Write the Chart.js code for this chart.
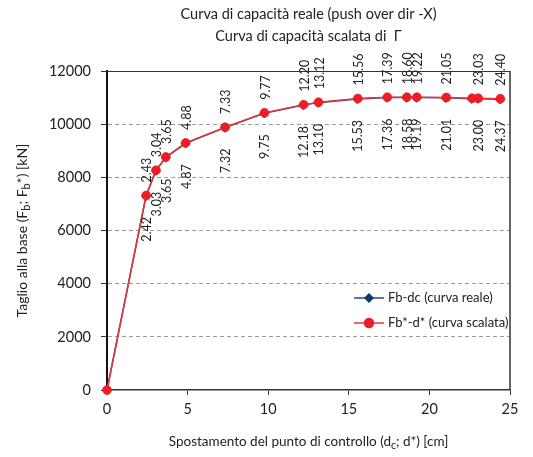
<!DOCTYPE html>
<html>
<head>
<meta charset="utf-8">
<script src="https://cdn.jsdelivr.net/npm/chart.js@4"></script>
<style>
    html, body { margin: 0; padding: 0; background: #fff; }
    #pushover { display: block; }
</style>
</head>
<body>
<canvas id="pushover" width="533" height="457"></canvas>
<script>
// Curva reale (Fb-dc): spostamento [cm], taglio [kN]
const realX = [0, 2.42, 3.03, 3.65, 4.87, 7.32, 9.75, 12.18, 13.10, 15.53, 17.36, 18.58, 19.19, 21.01, 22.62, 23.00, 24.37];
const realY = [0, 7300, 8250, 8750, 9280, 9870, 10410, 10720, 10810, 10950, 11000, 11000, 11000, 10990, 10960, 10960, 10940];

// Curva scalata di Gamma (Fb*-d*)
const scaledX = [0, 2.43, 3.04, 3.65, 4.88, 7.33, 9.77, 12.20, 13.12, 15.56, 17.39, 18.60, 19.22, 21.05, 22.65, 23.03, 24.40];
const scaledY = [0, 7315, 8265, 8765, 9295, 9885, 10425, 10735, 10825, 10965, 11015, 11015, 11015, 11005, 10975, 10975, 10955];

// which points carry a displacement label
const labelled = [false, true, true, true, true, true, true, true, true, true, true, true, true, true, false, true, true];

const yTicks = [0, 2000, 4000, 6000, 8000, 10000, 12000];
const xTicks = [0, 5, 10, 15, 20, 25];

const titleLines = ['Curva di capacità reale (push over dir -X)', 'Curva di capacità scalata di  Γ'];
const seriesNames = ['Fb-dc (curva reale)', 'Fb*-d* (curva scalata)'];

const FONT = 'Lato, "Noto Sans", sans-serif';
const TEXT = '#222';

function drawRich(ctx, parts, x, y, size) {
    // parts: [text, sub?] pairs, centred on x
    const widths = parts.map(([t, sub]) => {
        ctx.font = (sub ? size - 3 : size) + 'px ' + FONT;
        return ctx.measureText(t).width;
    });
    let cx = x - widths.reduce((a, b) => a + b, 0) / 2;
    parts.forEach(([t, sub], i) => {
        ctx.font = (sub ? size - 3 : size) + 'px ' + FONT;
        ctx.fillText(t, cx, sub ? y + 4 : y);
        cx += widths[i];
    });
}

const decorations = {
    id: 'decorations',
    beforeDatasetsDraw(chart) {
        const { ctx, chartArea: a } = chart;
        ctx.save();
        ctx.strokeStyle = '#333';
        ctx.lineWidth = 1;
        ctx.beginPath();
        ctx.moveTo(a.left - 6, a.top + 0.5);
        ctx.lineTo(a.right, a.top + 0.5);
        ctx.stroke();
        ctx.lineWidth = 1.5;
        ctx.beginPath();
        ctx.moveTo(a.right, a.top);
        ctx.lineTo(a.right, a.bottom);
        ctx.stroke();
        ctx.restore();
    },
    afterDraw(chart) {
        const { ctx, chartArea: a } = chart;
        const midX = (a.left + a.right) / 2;
        ctx.save();
        ctx.fillStyle = TEXT;
        ctx.textBaseline = 'middle';
        ctx.textAlign = 'center';

        // titles
        ctx.font = '14.5px ' + FONT;
        titleLines.forEach((t, i) => ctx.fillText(t, midX, 14 + i * 22));

        // axis titles
        ctx.textAlign = 'left';
        drawRich(ctx, [['Spostamento del punto di controllo (d', false], ['c', true], ['; d*) [cm]', false]], midX, 442, 13.5);
        ctx.save();
        ctx.translate(22, (a.top + a.bottom) / 2);
        ctx.rotate(-Math.PI / 2);
        drawRich(ctx, [['Taglio alla base (F', false], ['b', true], ['; F', false], ['b', true], ['*) [kN]', false]], 0, 0, 14);
        ctx.restore();

        // point labels: real curve below, scaled curve above
        ctx.font = '12.5px ' + FONT;
        chart.data.datasets.forEach((ds, di) => {
            const meta = chart.getDatasetMeta(di);
            meta.data.forEach((pt, i) => {
                if (!labelled[i]) return;
                ctx.save();
                ctx.translate(pt.x + 1, di === 0 ? pt.y + 21 : pt.y - 13);
                ctx.rotate(-Math.PI / 2);
                ctx.textAlign = di === 0 ? 'right' : 'left';
                ctx.fillText(ds.data[i].x.toFixed(2), 0, 0);
                ctx.restore();
            });
        });

        // legend inside the plot
        const lx = a.right - 156;
        chart.data.datasets.forEach((ds, di) => {
            const ly = a.bottom - 92 + di * 25;
            ctx.strokeStyle = ds.borderColor;
            ctx.lineWidth = ds.borderWidth;
            ctx.beginPath();
            ctx.moveTo(lx, ly);
            ctx.lineTo(lx + 30, ly);
            ctx.stroke();
            ctx.fillStyle = ds.pointBackgroundColor;
            ctx.strokeStyle = ds.pointBorderColor;
            Chart.helpers.drawPoint(ctx, { pointStyle: ds.pointStyle, radius: ds.pointRadius, borderWidth: 1, rotation: 0 }, lx + 15, ly);
            ctx.fillStyle = TEXT;
            ctx.font = '13px ' + FONT;
            ctx.textAlign = 'left';
            ctx.fillText(ds.label, lx + 34, ly);
        });
        ctx.restore();
    }
};

new Chart(document.getElementById('pushover'), {
    type: 'line',
    data: {
        datasets: [
            {
                label: seriesNames[0],
                data: realX.map((x, i) => ({ x, y: realY[i] })),
                borderColor: '#1f4e79',
                borderWidth: 1.5,
                pointStyle: 'rectRot',
                pointRadius: 4,
                pointBackgroundColor: '#0b3a6e',
                pointBorderColor: '#0b3a6e',
                clip: false,
                order: 2,
            },
            {
                label: seriesNames[1],
                data: scaledX.map((x, i) => ({ x, y: scaledY[i] })),
                borderColor: '#e8343c',
                borderWidth: 1.5,
                pointStyle: 'circle',
                pointRadius: 4.5,
                pointBorderWidth: 0.5,
                pointBackgroundColor: '#ee1c25',
                pointBorderColor: '#ee1c25',
                clip: false,
                order: 1,
            }
        ]
    },
    options: {
        responsive: false,
        animation: false,
        layout: { padding: { top: 71, right: 23, bottom: 0, left: 0 } },
        plugins: {
            legend: { display: false },
            title: { display: false },
            tooltip: { enabled: false },
        },
        scales: {
            x: {
                type: 'linear',
                min: xTicks[0],
                max: xTicks[xTicks.length - 1],
                afterBuildTicks: s => { s.ticks = xTicks.map(v => ({ value: v })); },
                afterFit: s => { s.height = 67; },
                grid: { drawOnChartArea: false, tickLength: 5, tickColor: '#333', tickWidth: 1 },
                border: { color: '#333', width: 1.5 },
                ticks: { color: TEXT, padding: 6, font: { family: FONT, size: 14.5 }, callback: v => String(v) },
            },
            y: {
                min: yTicks[0],
                max: yTicks[yTicks.length - 1],
                afterBuildTicks: s => { s.ticks = yTicks.map(v => ({ value: v })); },
                afterFit: s => { s.width = 107; },
                grid: {
                    color: c => (c.tick && (c.tick.value === 0 || c.tick.value === 12000)) ? 'rgba(0,0,0,0)' : '#9a9a9a',
                    tickColor: '#333',
                    tickLength: 6,
                    tickBorderDash: [],
                },
                border: { color: '#111', width: 2, dash: [4, 3] },
                ticks: { color: TEXT, padding: 10, font: { family: FONT, size: 14.5 }, callback: v => String(v) },
            }
        }
    },
    plugins: [decorations]
});
</script>
</body>
</html>
